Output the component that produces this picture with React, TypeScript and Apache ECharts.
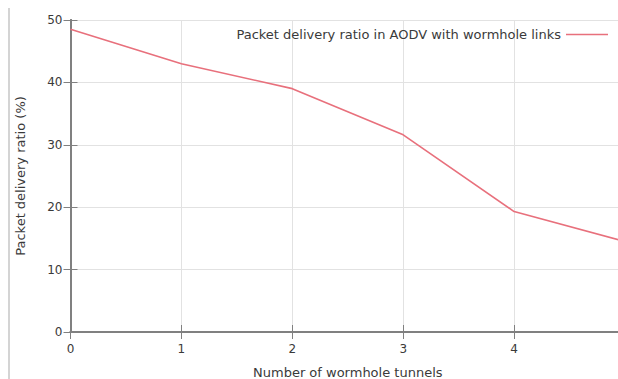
import React, { useEffect, useRef } from "react";
import * as echarts from "echarts";

const xValues = [0, 1, 2, 3, 4, 5];
const deliveryRatio = [48.5, 43.0, 39.0, 31.6, 19.3, 14.5];
const seriesName = "Packet delivery ratio in AODV with wormhole links";
const xAxisTitle = "Number of wormhole tunnels";
const yAxisTitle = "Packet delivery ratio (%)";

const FONT = "'DejaVu Sans', sans-serif";
const TEXT = "#3a3a3a";
const CHART_W = 640;

export default function App() {
  const ref = useRef<HTMLDivElement>(null);
  useEffect(() => {
    document.body.style.margin = "0";
    const chart = echarts.init(ref.current!, null, { renderer: "svg" });
    const data = xValues.map((x, i) => [x, deliveryRatio[i]]);
    chart.setOption({
      animation: false,
      backgroundColor: "#ffffff",
      grid: {
        left: 70.5,
        top: 20,
        bottom: 47,
        right: CHART_W - 625,
        show: false,
        outerBoundsMode: "none",
        containLabel: false,
      },
      legend: {
        data: [seriesName],
        right: CHART_W - 608,
        top: 28,
        padding: 0,
        align: "right",
        icon: "rect",
        itemWidth: 42,
        itemHeight: 1.6,
        textStyle: { fontFamily: FONT, fontSize: 13, color: TEXT },
      },
      xAxis: [
        {
          type: "value",
          min: 0,
          max: 5,
          interval: 1,
          name: xAxisTitle,
          nameLocation: "middle",
          nameGap: 34,
          nameTextStyle: { fontFamily: FONT, fontSize: 13, color: TEXT },
          axisLine: { show: true, lineStyle: { color: "#808080", width: 2 } },
          axisTick: { show: true, inside: true, length: 7, lineStyle: { color: "#808080", width: 1 } },
          axisLabel: { fontFamily: FONT, fontSize: 12, color: TEXT, margin: 11, showMaxLabel: false },
          splitLine: { show: true, lineStyle: { color: "#e2e2e2", width: 1 } },
        },
        {
          type: "value",
          position: "top",
          min: 0,
          max: 5,
          interval: 1,
          axisLine: { show: true, lineStyle: { color: "#808080", width: 2 } },
          axisTick: { show: true, inside: true, length: 7, lineStyle: { color: "#808080", width: 1 } },
          axisLabel: { show: false },
          splitLine: { show: false },
        },
      ],
      yAxis: [
        {
          type: "value",
          min: 0,
          max: 50,
          interval: 10,
          name: yAxisTitle,
          nameLocation: "middle",
          nameGap: 44,
          nameTextStyle: { fontFamily: FONT, fontSize: 13, color: TEXT },
          axisLine: { show: true, lineStyle: { color: "#808080", width: 2 } },
          axisTick: { show: true, inside: true, length: 7, lineStyle: { color: "#808080", width: 1 } },
          axisLabel: { fontFamily: FONT, fontSize: 12, color: TEXT, margin: 8 },
          splitLine: { show: true, lineStyle: { color: "#e2e2e2", width: 1 } },
        },
        {
          type: "value",
          position: "right",
          min: 0,
          max: 50,
          interval: 10,
          axisLine: { show: true, lineStyle: { color: "#808080", width: 2 } },
          axisTick: { show: true, inside: true, length: 7, lineStyle: { color: "#808080", width: 1 } },
          axisLabel: { show: false },
          splitLine: { show: false },
        },
      ],
      series: [
        {
          name: seriesName,
          type: "line",
          data,
          symbol: "none",
          lineStyle: { color: "#e8707c", width: 1.6 },
          itemStyle: { color: "#e8707c" },
          clip: false,
        },
      ],
      graphic: [
        {
          type: "line",
          shape: { x1: 9, y1: 8, x2: 9, y2: 379 },
          style: { stroke: "#d4d4d4", lineWidth: 2 },
        },
      ],
    });
    return () => chart.dispose();
  }, []);
  return (
    <div style={{ width: 618, height: 379, overflow: "hidden", position: "relative" }}>
      <div ref={ref} style={{ width: CHART_W, height: 379 }} />
    </div>
  );
}
